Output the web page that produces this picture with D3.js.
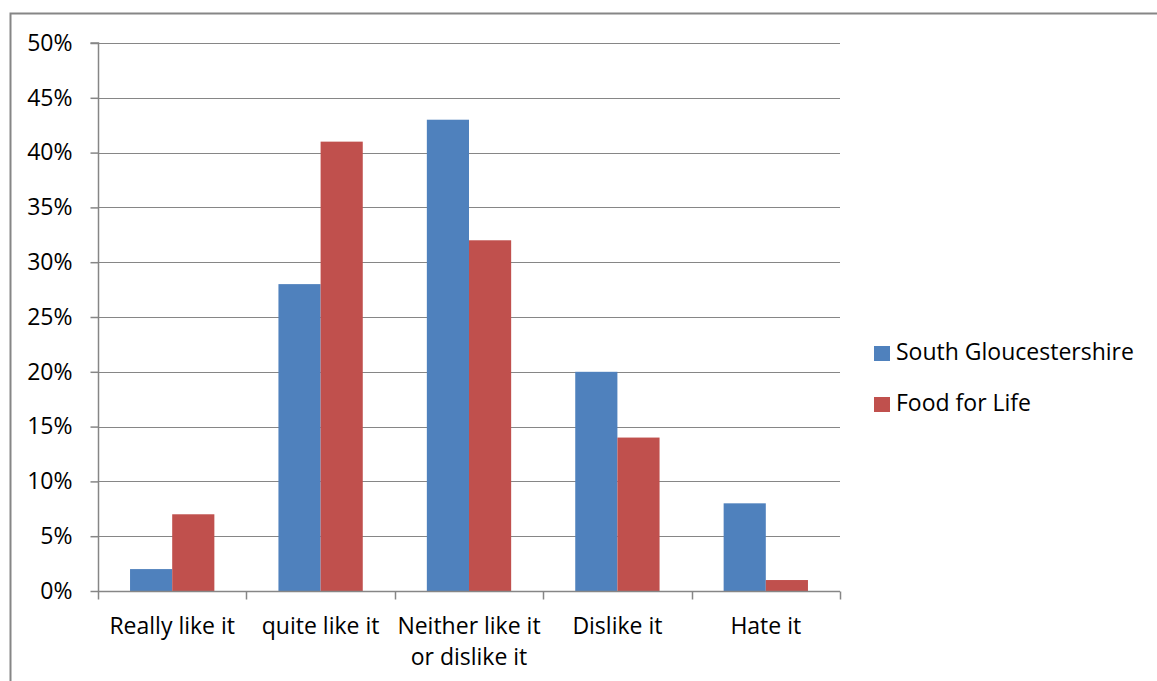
<!DOCTYPE html>
<html>
<head>
<meta charset="utf-8">
<script src="https://cdn.jsdelivr.net/npm/d3@7"></script>
<style>
  body { margin: 0; background: #fff; }
  svg text { font-family: "Open Sans", "Noto Sans", sans-serif; fill: #000; }
</style>
</head>
<body>
<svg id="chart"></svg>
<script>
const w = 1157;
const h = 681;

const categories = ['Really like it', 'quite like it', 'Neither like it|or dislike it', 'Dislike it', 'Hate it'];
const seriesNames = ['South Gloucestershire', 'Food for Life'];
const southGlos = [2, 28, 43, 20, 8];
const foodForLife = [7, 41, 32, 14, 1];
const yTicks = [0, 5, 10, 15, 20, 25, 30, 35, 40, 45, 50];
const colors = ['#4F81BD', '#C0504D'];

const fontSize = '23px';
const margin = {left: 98, right: 317, top: 43, bottom: 90};

const svg = d3.select('#chart')
  .attr('width', w)
  .attr('height', h)

// outer border (chart area)
svg.append('rect')
  .attr('x', 10.5)
  .attr('y', 13.5)
  .attr('width', w + 10)
  .attr('height', h + 10)
  .attr('fill', 'none')
  .attr('stroke', '#868686')
  .attr('stroke-width', 2)

const x = d3.scaleBand()
  .domain(categories)
  .range([margin.left, w - margin.right])

const inner = d3.scaleBand()
  .domain(seriesNames)
  .range([0, x.bandwidth()])
  .paddingInner(0)
  .paddingOuter(0.76)

const y = d3.scaleLinear()
  .domain([0, 50])
  .range([h - margin.bottom, margin.top])

// gridlines
svg.append('g')
  .selectAll('line')
  .data(yTicks.slice(1))
  .enter()
  .append('line')
  .attr('x1', margin.left)
  .attr('x2', w - margin.right)
  .attr('y1', d => Math.round(y(d)) + 0.5)
  .attr('y2', d => Math.round(y(d)) + 0.5)
  .attr('stroke', '#868686')
  .attr('stroke-width', 1)

const data = categories.map((c, i) => ({cat: c, values: [southGlos[i], foodForLife[i]]}))

const groups = svg.append('g')
  .selectAll('g')
  .data(data)
  .enter()
  .append('g')
  .attr('transform', d => `translate(${x(d.cat)},0)`)

groups.selectAll('rect')
  .data(d => d.values.map((v, j) => ({name: seriesNames[j], v: v, j: j})))
  .enter()
  .append('rect')
  .attr('x', d => inner(d.name))
  .attr('width', inner.bandwidth())
  .attr('y', d => y(d.v))
  .attr('height', d => y(0) - y(d.v))
  .attr('fill', d => colors[d.j])

// y axis
const yAxis = d3.axisLeft(y)
  .tickValues(yTicks)
  .tickSize(8)
  .tickFormat(d => d + '%')

const yg = svg.append('g')
  .attr('transform', `translate(${margin.left + 0.5},0)`)
  .call(yAxis)
yg.selectAll('path, line').attr('stroke', '#868686').attr('stroke-width', 1.5)
yg.select('.domain').attr('d', `M-8,${y(50)}H0V${y(0)}`)
yg.selectAll('text')
  .attr('x', -26)
  .style('font-size', fontSize)
  .style('font-family', '"Open Sans", sans-serif')

// x axis
const xAxis = d3.axisBottom(x)
  .tickSize(0)
  .tickFormat('')

const xg = svg.append('g')
  .attr('transform', `translate(0,${y(0) + 0.5})`)
  .call(xAxis)
xg.select('.domain').attr('stroke', '#868686').attr('stroke-width', 1.5)
  .attr('d', `M${margin.left},0H${w - margin.right}`)

const xTickPos = categories.map(c => x(c)).concat([x(categories[categories.length - 1]) + x.bandwidth()])
xg.selectAll('.sep')
  .data(xTickPos)
  .enter()
  .append('line')
  .attr('class', 'sep')
  .attr('x1', d => Math.round(d) + 0.5)
  .attr('x2', d => Math.round(d) + 0.5)
  .attr('y1', 0)
  .attr('y2', 8)
  .attr('stroke', '#868686')
  .attr('stroke-width', 1.5)

const labels = svg.append('g')
  .selectAll('text')
  .data(categories)
  .enter()
  .append('text')
  .attr('x', d => x(d) + x.bandwidth() / 2)
  .attr('y', y(0) + 43)
  .attr('text-anchor', 'middle')
  .style('font-size', fontSize)

labels.selectAll('tspan')
  .data(d => d.split('|'))
  .enter()
  .append('tspan')
  .attr('x', function() { return d3.select(this.parentNode).attr('x') })
  .attr('dy', (d, i) => i === 0 ? 0 : 31)
  .text(d => d)

// legend
const legend = svg.append('g')
  .attr('transform', 'translate(874,346)')

const li = legend.selectAll('g')
  .data(seriesNames)
  .enter()
  .append('g')
  .attr('transform', (d, i) => `translate(0,${i * 51})`)

li.append('rect')
  .attr('width', 16)
  .attr('height', 15)
  .attr('fill', (d, i) => colors[i])

li.append('text')
  .attr('x', 22)
  .attr('y', 13.5)
  .style('font-size', fontSize)
  .text(d => d)
</script>
</body>
</html>
